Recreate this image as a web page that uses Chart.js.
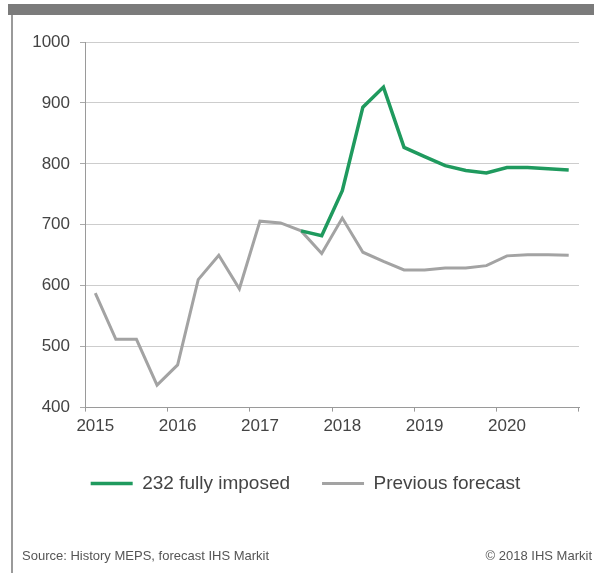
<!DOCTYPE html>
<html>
<head>
<meta charset="utf-8">
<script src="https://cdn.jsdelivr.net/npm/chart.js@4/dist/chart.umd.min.js"></script>
<style>
  html, body { margin: 0; padding: 0; background: #fff; }
  body { width: 594px; height: 573px; position: relative; overflow: hidden; font-family: "Liberation Sans", Arial, sans-serif; }
  #topbar { position: absolute; left: 8px; top: 4px; width: 586px; height: 11px; background: #7b7b7b; }
  #leftline { position: absolute; left: 11px; top: 15px; width: 2px; height: 558px; background: #9a9a9a; }
  #wrap { position: absolute; left: 0; top: 0; width: 594px; height: 573px; }
  .note { position: absolute; top: 548px; font-size: 13px; color: #555; white-space: nowrap; }
  #src { left: 22px; }
  #copy { right: 2px; }
</style>
</head>
<body>
<div id="topbar"></div>
<div id="leftline"></div>
<div id="wrap"><canvas id="c"></canvas></div>
<div class="note" id="src">Source: History MEPS, forecast IHS Markit</div>
<div class="note" id="copy">© 2018 IHS Markit</div>
<script>
const categories = [
  '2015 Q1','2015 Q2','2015 Q3','2015 Q4',
  '2016 Q1','2016 Q2','2016 Q3','2016 Q4',
  '2017 Q1','2017 Q2','2017 Q3','2017 Q4',
  '2018 Q1','2018 Q2','2018 Q3','2018 Q4',
  '2019 Q1','2019 Q2','2019 Q3','2019 Q4',
  '2020 Q1','2020 Q2','2020 Q3','2020 Q4'
];
const fullyImposed = [
  null, null, null, null, null, null, null, null, null, null,
  690, 682, 756, 893, 926, 827, 812, 797, 789, 785, 794, 794, 792, 790
];
const previousForecast = [
  588, 512, 512, 437, 470, 610, 650, 595, 706, 703, 690, 653,
  711, 655, 640, 626, 626, 629, 629, 633, 649, 651, 651, 650
];
const seriesNames = ['232 fully imposed', 'Previous forecast'];
const yMin = 400, yMax = 1000, yStep = 100;

const FONT = '"Liberation Sans", Arial, sans-serif';
const isYearStart = (i) => i === undefined || i % 4 === 0;

new Chart(document.getElementById('c'), {
  type: 'line',
  data: {
    labels: categories,
    datasets: [
      { label: seriesNames[0], data: fullyImposed, borderColor: '#1f9a5e', backgroundColor: '#1f9a5e',
        borderWidth: 3.5, pointRadius: 0, tension: 0, spanGaps: false },
      { label: seriesNames[1], data: previousForecast, borderColor: '#a3a3a3', backgroundColor: '#a3a3a3',
        borderWidth: 3, pointRadius: 0, tension: 0 }
    ]
  },
  options: {
    responsive: true,
    maintainAspectRatio: false,
    animation: false,
    layout: { padding: { left: 32, right: 15, top: 42, bottom: 70 } },
    plugins: {
      legend: {
        position: 'bottom',
        labels: {
          usePointStyle: true, pointStyle: 'line', pointStyleWidth: 42, boxHeight: 19,
          padding: 32, color: '#444', font: { family: FONT, size: 19 }
        }
      },
      tooltip: { enabled: false }
    },
    scales: {
      x: {
        type: 'category',
        offset: true,
        grid: {
          offset: true, drawOnChartArea: false, drawTicks: true, tickLength: 4,
          tickColor: (ctx) => isYearStart(ctx.index) ? '#999' : 'rgba(0,0,0,0)'
        },
        border: { display: true, color: '#9a9a9a', width: 1 },
        ticks: {
          autoSkip: false, maxRotation: 0, padding: 5, color: '#444',
          font: { family: FONT, size: 17 },
          callback: function (v, i) { const l = this.getLabelForValue(v); return l.endsWith('Q1') ? l.slice(0, 4) : ''; }
        }
      },
      y: {
        min: yMin, max: yMax,
        grid: { color: '#cdcdcd', lineWidth: 1, tickLength: 5, tickColor: '#aaa' },
        border: { display: true, color: '#9a9a9a', width: 1 },
        ticks: { stepSize: yStep, padding: 10, color: '#444', font: { family: FONT, size: 17 },
          callback: (v) => String(v) },
        afterFit: (s) => { s.width = 53; }
      }
    }
  }
});
</script>
</body>
</html>
